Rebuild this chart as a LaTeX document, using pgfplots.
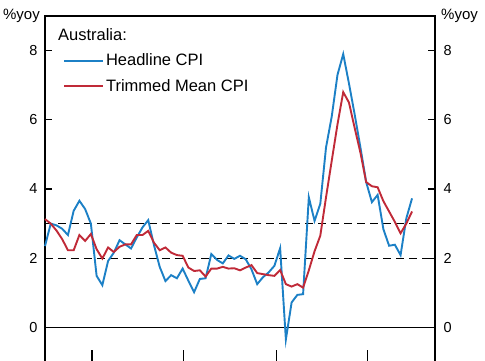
\documentclass[border=0pt]{standalone}
\usepackage{pgfplots}
\pgfplotsset{compat=1.18}
\usepackage{pgfplotstable}
\usepackage{fontspec}
\setmainfont{Liberation Sans}
\definecolor{cpiblue}{RGB}{28,128,198}
\definecolor{cpired}{RGB}{192,42,56}
\pgfplotstableread{
i blue red
0 2.35 3.13
1 3.00 3.00
2 2.95 2.80
3 2.85 2.55
4 2.67 2.23
5 3.37 2.23
6 3.66 2.67
7 3.42 2.50
8 3.00 2.70
9 1.49 2.26
10 1.22 1.99
11 1.92 2.31
12 2.16 2.18
13 2.52 2.33
14 2.40 2.40
15 2.28 2.40
16 2.60 2.67
17 2.89 2.67
18 3.10 2.79
19 2.38 2.45
20 1.75 2.23
21 1.34 2.31
22 1.51 2.16
23 1.42 2.09
24 1.70 2.07
25 1.35 1.73
26 1.02 1.63
27 1.40 1.65
28 1.42 1.47
29 2.12 1.70
30 1.95 1.70
31 1.85 1.75
32 2.08 1.70
33 1.98 1.71
34 2.07 1.65
35 1.97 1.73
36 1.68 1.80
37 1.25 1.57
38 1.45 1.54
39 1.59 1.51
40 1.78 1.49
41 2.29 1.66
42 -0.35 1.25
43 0.72 1.18
44 0.94 1.25
45 0.96 1.15
46 3.76 1.65
47 3.08 2.20
48 3.57 2.65
49 5.20 3.76
50 6.10 4.82
51 7.30 5.87
52 7.90 6.80
53 7.05 6.50
54 6.15 5.76
55 5.20 5.05
56 4.20 4.20
57 3.62 4.08
58 3.83 4.05
59 2.84 3.65
60 2.36 3.35
61 2.39 3.05
62 2.09 2.72
63 3.15 3.00
64 3.73 3.35
}\cpidata
\begin{document}
\begin{tikzpicture}
\begin{axis}[
  at={(0,0)}, anchor=south west,
  scale only axis, width=390pt, height=346pt,
  xmin=0, xmax=68, ymin=-1, ymax=9,
  xtick={8.2,24.2,40.4,56.3}, xticklabels={},
  xtick pos=bottom,
  ytick={0,2,4,6,8}, ytick pos=both, yticklabel pos=left,
  tick align=inside,
  xtick style={/pgfplots/major tick length=12pt, line width=1.1pt, black},
  ytick style={/pgfplots/major tick length=7pt, line width=1.1pt, black},
  axis line style={line width=1.2pt, black},
  /pgf/number format/assume math mode=true,
  yticklabel style={font=\fontsize{14.5}{16}\selectfont, xshift=-4pt},
  legend style={draw=none, fill=none, at={(rel axis cs:0.046,0.897)}, anchor=north west,
    font=\fontsize{16.5}{18}\selectfont, inner sep=0pt, row sep=8pt,
    nodes={inner sep=2pt}},
  legend cell align=left,
  legend image code/.code={\draw[#1] (0pt,0pt) -- (39pt,0pt);},
  clip=false,
]
\addplot[black, line width=1.2pt, forget plot] coordinates {(0,0) (68,0)};
\addplot[black, line width=1.3pt, dash pattern=on 8pt off 5pt, forget plot] coordinates {(0,2) (68,2)};
\addplot[black, line width=1.3pt, dash pattern=on 8pt off 5pt, forget plot] coordinates {(0,3) (68,3)};
\addplot[cpiblue, line width=1.9pt] table[x=i, y=blue] {\cpidata};
\addlegendentry{Headline CPI}
\addplot[cpired, line width=1.9pt] table[x=i, y=red] {\cpidata};
\addlegendentry{Trimmed Mean CPI}
\node[anchor=west, inner sep=0pt, font=\fontsize{16.5}{18}\selectfont] at (rel axis cs:0.033,0.945) {Australia:};
\node[anchor=east, inner sep=0pt, font=\fontsize{15}{16}\selectfont] at (rel axis cs:0,1) [xshift=-5pt] {\%yoy};
\node[anchor=west, inner sep=0pt, font=\fontsize{15}{16}\selectfont] at (rel axis cs:1,1) [xshift=6pt] {\%yoy};
\end{axis}
\begin{axis}[
  at={(0,0)}, anchor=south west,
  scale only axis, width=390pt, height=346pt,
  xmin=0, xmax=68, ymin=-1, ymax=9,
  axis x line=none, axis y line*=right,
  y axis line style={draw=none},
  ytick={0,2,4,6,8}, major tick length=0pt,
  /pgf/number format/assume math mode=true,
  yticklabel style={font=\fontsize{14.5}{16}\selectfont, xshift=5pt},
]
\addplot[draw=none] coordinates {(0,0)};
\end{axis}
\pgfresetboundingbox
\useasboundingbox (-45pt,2pt) rectangle (440pt,362pt);
\end{tikzpicture}
\end{document}
